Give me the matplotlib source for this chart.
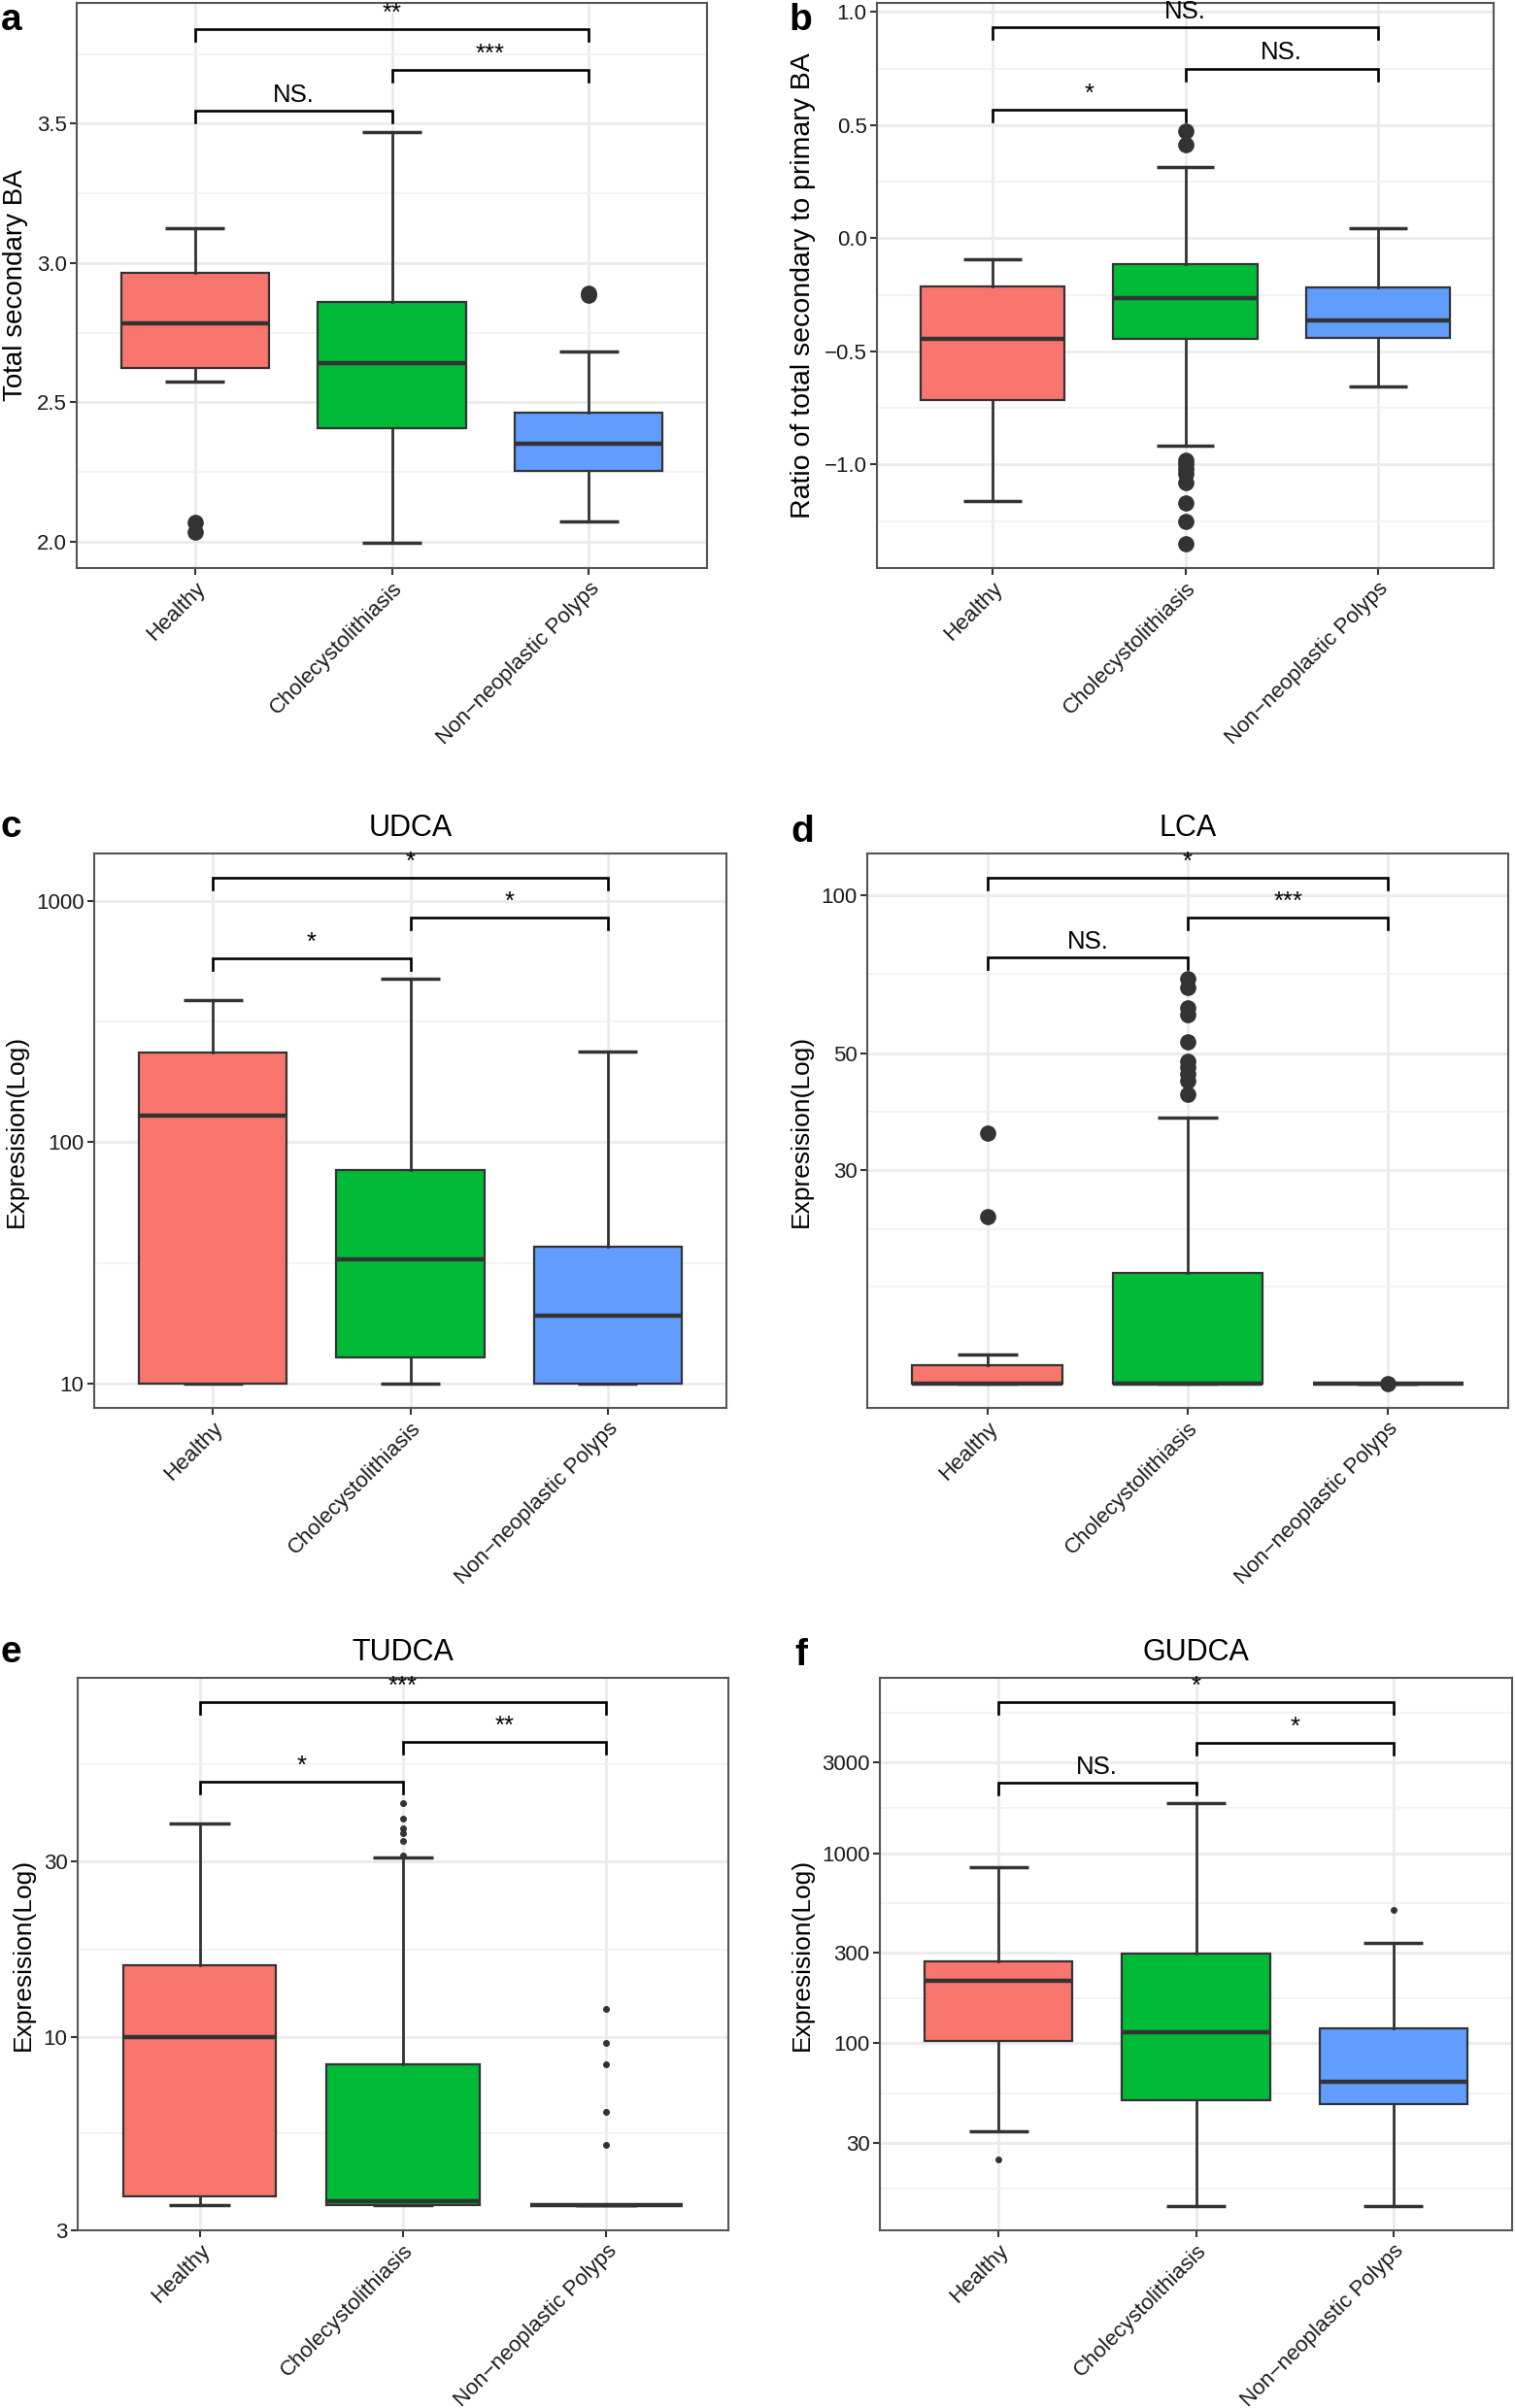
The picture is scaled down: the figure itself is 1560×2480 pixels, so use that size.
import matplotlib
matplotlib.use("Agg")
import matplotlib.pyplot as plt
from matplotlib.ticker import FixedLocator, FixedFormatter

plt.rcParams['font.family'] = ['Liberation Sans', 'DejaVu Sans']

# ---- shared ----
groups = ["Healthy", "Cholecystolithiasis", "Non\u2212neoplastic Polyps"]
colors = ["#F8766D", "#00BA38", "#619CFF"]
pairs = [(0, 2), (1, 2), (0, 1)]   # bracket order: top, middle, bottom

# ---- a: Total secondary BA ----
a_whislo = [2.573, 1.995, 2.074]
a_q1 = [2.622, 2.406, 2.256]
a_med = [2.782, 2.642, 2.352]
a_q3 = [2.964, 2.861, 2.464]
a_whishi = [3.126, 3.470, 2.681]
a_fliers = [[2.071, 2.036], [], [2.885, 2.892]]
a_sig = ["**", "***", "NS."]
a_sig_y = [3.84, 3.694, 3.546]
a_ticks = [2.0, 2.5, 3.0, 3.5]
a_labels = ["2.0", "2.5", "3.0", "3.5"]
a_minor = [2.25, 2.75, 3.25, 3.75]

# ---- b: ratio secondary / primary ----
b_whislo = [-1.16, -0.919, -0.657]
b_q1 = [-0.717, -0.446, -0.442]
b_med = [-0.444, -0.265, -0.365]
b_q3 = [-0.213, -0.115, -0.217]
b_whishi = [-0.093, 0.315, 0.043]
b_fliers = [[], [0.473, 0.413, -0.98, -1.0, -1.02, -1.04, -1.08, -1.17, -1.25, -1.35], []]
b_sig = ["NS.", "NS.", "*"]
b_sig_y = [0.931, 0.75, 0.567]
b_ticks = [-1.0, -0.5, 0.0, 0.5, 1.0]
b_labels = ["\u22121.0", "\u22120.5", "0.0", "0.5", "1.0"]
b_minor = [-1.25, -0.75, -0.25, 0.25, 0.75]

# ---- c: UDCA ----
c_whislo = [10, 10, 10]
c_q1 = [10, 12.8, 10]
c_med = [129, 32.5, 19.0]
c_q3 = [236, 76.6, 36.7]
c_whishi = [390, 475, 237]
c_fliers = [[], [], []]
c_sig = ["*", "*", "*"]
c_sig_y = [1245, 851, 581]
c_ticks = [10, 100, 1000]
c_labels = ["10", "100", "1000"]
c_minor = [31.6, 316]

# ---- d: LCA ----
d_whislo = [11.8, 11.8, 11.8]
d_q1 = [11.8, 11.8, 11.8]
d_med = [11.8, 11.8, 11.8]
d_q3 = [12.8, 19.1, 11.8]
d_whishi = [13.4, 37.7, 11.8]
d_fliers = [[35.3, 24.5],
            [69.5, 66.8, 61.0, 59.3, 52.7, 48.4, 47.2, 45.7, 44.3, 41.8],
            [11.8]]
d_sig = ["*", "***", "NS."]
d_sig_y = [107.9, 90.6, 76.0]
d_ticks = [30, 50, 100]
d_labels = ["30", "50", "100"]
d_minor = [18.0, 23.2, 38.7, 70.7]

# ---- e: TUDCA ----
e_whislo = [3.51, 3.52, 3.52]
e_q1 = [3.70, 3.52, 3.52]
e_med = [10.0, 3.59, 3.52]
e_q3 = [15.7, 8.44, 3.52]
e_whishi = [37.8, 30.7, 3.52]
e_fliers = [[], [43.1, 39.0, 36.8, 35.6, 34.0, 31.1], [11.9, 9.66, 8.44, 6.27, 5.12]]
e_sig = ["***", "**", "*"]
e_sig_y = [80.7, 63.1, 49.1]
e_ticks = [3, 10, 30]
e_labels = ["3", "10", "30"]
e_minor = [5.48, 17.3, 54.8]

# ---- f: GUDCA ----
f_whislo = [34.3, 14.0, 14.0]
f_q1 = [103, 50.5, 48.1]
f_med = [214, 115, 63.1]
f_q3 = [270, 295, 120]
f_whishi = [844, 1837, 337]
f_fliers = [[24.4], [], [501]]
f_sig = ["*", "*", "NS."]
f_sig_y = [6250, 3820, 2339]
f_ticks = [30, 100, 300, 1000, 3000]
f_labels = ["30", "100", "300", "1000", "3000"]
f_minor = [17.3, 54.8, 173, 548, 1732, 5477]

W, H = 1560, 2480
fig = plt.figure(figsize=(W / 100, H / 100), dpi=100)


def px_axes(left, top, right, bottom):
    return fig.add_axes([left / W, 1 - bottom / H, (right - left) / W, (bottom - top) / H])


def draw_panel(ax, whislo, q1, med, q3, whishi, fliers, ylim, ticks, labels, minor,
               sig, sig_y, ylabel, log=False, title=None, dot=11, ylabel_size=19):
    if log:
        ax.set_yscale('log')
    stats = []
    for i in range(3):
        stats.append(dict(whislo=whislo[i], q1=q1[i], med=med[i], q3=q3[i],
                          whishi=whishi[i], fliers=fliers[i]))
    bp = ax.bxp(stats, positions=[1, 2, 3], widths=0.75, patch_artist=True,
                showcaps=False,
                boxprops=dict(edgecolor='#333333', linewidth=1.6),
                whiskerprops=dict(color='#333333', linewidth=2.0),
                medianprops=dict(color='#333333', linewidth=3.2, solid_capstyle='butt'),
                flierprops=dict(marker='o', markerfacecolor='#333333',
                                markeredgecolor='#333333', markersize=dot, linestyle='none'))
    for patch, c in zip(bp['boxes'], colors):
        patch.set_facecolor(c)
        patch.set_zorder(2)
    for m in bp['medians']:
        m.set_zorder(3)
    # error-bar style caps
    for i in range(3):
        ax.hlines([whislo[i], whishi[i]], i + 1 - 0.15, i + 1 + 0.15,
                  color='#333333', linewidth=2.5, zorder=1.5)

    ax.set_xlim(0.4, 3.6)
    ax.set_ylim(*ylim)
    ax.yaxis.set_major_locator(FixedLocator(ticks))
    ax.yaxis.set_major_formatter(FixedFormatter(labels))
    ax.yaxis.set_minor_locator(FixedLocator(minor))
    ax.yaxis.set_minor_formatter(FixedFormatter([""] * len(minor)))
    ax.set_xticks([1, 2, 3])
    ax.set_xticklabels(groups, rotation=45, ha='right', rotation_mode='anchor', fontsize=16)
    ax.set_axisbelow(True)
    ax.grid(which='major', color='#EBEBEB', linewidth=2.0)
    ax.grid(which='minor', axis='y', color='#F2F2F2', linewidth=1.3)
    ax.tick_params(which='major', length=5, width=1.5, color='#333333',
                   labelsize=16, labelcolor='#1a1a1a', pad=2.5)
    ax.tick_params(which='minor', length=0)
    for s in ax.spines.values():
        s.set_color('#555555')
        s.set_linewidth(1.5)
    ax.set_ylabel(ylabel, fontsize=ylabel_size, labelpad=6)
    if title:
        ax.set_title(title, fontsize=22, pad=13)

    # significance brackets
    for (i, j), y, lab in zip(pairs, sig_y, sig):
        x1, x2 = i + 1, j + 1
        yd = ax.transData.transform((0, y))[1]
        ytip = ax.transData.inverted().transform((0, yd - 12))[1]
        ax.plot([x1, x1, x2, x2], [ytip, y, y, ytip], color='black', linewidth=1.9,
                solid_joinstyle='miter', zorder=4)
        ax.annotate(lab, xy=((x1 + x2) / 2, y), xytext=(0, 3), textcoords='offset points',
                    ha='center', va='bottom', fontsize=18.5)


ax_a = px_axes(79, 3, 728, 585)
draw_panel(ax_a, a_whislo, a_q1, a_med, a_q3, a_whishi, a_fliers, (1.906, 3.933),
           a_ticks, a_labels, a_minor, a_sig, a_sig_y, "Total secondary BA", ylabel_size=20)

ax_b = px_axes(903, 3, 1538, 585)
draw_panel(ax_b, b_whislo, b_q1, b_med, b_q3, b_whishi, b_fliers, (-1.458, 1.04),
           b_ticks, b_labels, b_minor, b_sig, b_sig_y, "Ratio of total secondary to primary BA",
           ylabel_size=20.5)

ax_c = px_axes(97, 879, 748, 1450)
draw_panel(ax_c, c_whislo, c_q1, c_med, c_q3, c_whishi, c_fliers, (7.9, 1575),
           c_ticks, c_labels, c_minor, c_sig, c_sig_y, "Expresision(Log)", log=True, title="UDCA")

ax_d = px_axes(893, 879, 1553, 1450)
draw_panel(ax_d, d_whislo, d_q1, d_med, d_q3, d_whishi, d_fliers, (10.6, 120),
           d_ticks, d_labels, d_minor, d_sig, d_sig_y, "Expresision(Log)", log=True, title="LCA")

ax_e = px_axes(80, 1728, 750, 2297)
draw_panel(ax_e, e_whislo, e_q1, e_med, e_q3, e_whishi, e_fliers, (3.0, 94),
           e_ticks, e_labels, e_minor, e_sig, e_sig_y, "Expresision(Log)", log=True,
           title="TUDCA", dot=4)

ax_f = px_axes(906, 1728, 1557, 2297)
draw_panel(ax_f, f_whislo, f_q1, f_med, f_q3, f_whishi, f_fliers, (10.4, 8360),
           f_ticks, f_labels, f_minor, f_sig, f_sig_y, "Expresision(Log)", log=True,
           title="GUDCA", dot=4)

# panel letters
for lab, x, y in [("a", 1, 31), ("b", 812, 31), ("c", 0, 862), ("d", 814, 867),
                  ("e", 1, 1712), ("f", 818, 1715)]:
    fig.text(x / W, 1 - y / H, lab, fontsize=28, fontweight='bold', ha='left', va='baseline')

fig.savefig("out.png", dpi=100, facecolor='white')
